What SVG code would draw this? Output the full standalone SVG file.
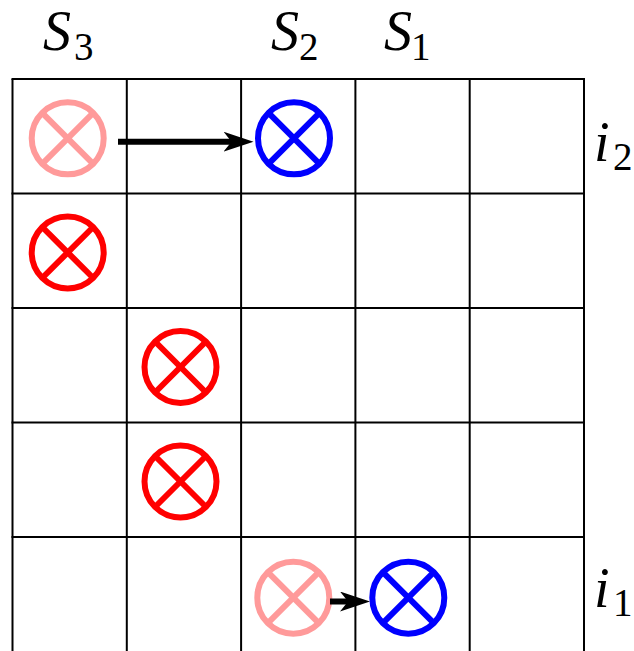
<svg xmlns="http://www.w3.org/2000/svg" width="634" height="651" viewBox="0 0 634 651">
<style>
.grid{stroke:#000;stroke-width:2;fill:none}
.pink{stroke:#FF9A9A}
.red{stroke:#FF0000}
.blue{stroke:#0000FF}
.conn{stroke:#000;stroke-width:6;fill:none}
text{font-family:"Times New Roman",Times,"Liberation Serif","Nimbus Roman","Noto Serif","DejaVu Serif",serif;fill:#000}
.big{font-size:56px;font-style:italic}
.sub{font-size:39px;font-style:normal}
</style>
<defs>
<marker id="ah" viewBox="-30 -10 30 20" refX="-20" refY="0" markerWidth="30" markerHeight="20" markerUnits="userSpaceOnUse" orient="auto">
<path d="M0,0 L-30,-10 L-22,0 L-30,10 Z" fill="#000" stroke="none"/>
</marker>
<g id="cross" fill="none" stroke-width="6">
<circle cx="0" cy="0" r="36"/>
<line x1="-25.5" y1="-25.5" x2="25.5" y2="25.5"/>
<line x1="25.5" y1="-25.5" x2="-25.5" y2="25.5"/>
</g>
</defs>
<rect width="634" height="651" fill="#fff"/>
<g id="grid" class="grid">
<line x1="12.5" y1="79" x2="12.5" y2="651"/>
<line x1="126.8" y1="79" x2="126.8" y2="651"/>
<line x1="241.1" y1="79" x2="241.1" y2="651"/>
<line x1="355.4" y1="79" x2="355.4" y2="651"/>
<line x1="469.7" y1="79" x2="469.7" y2="651"/>
<line x1="584" y1="79" x2="584" y2="651"/>
<line x1="11.5" y1="79" x2="585" y2="79"/>
<line x1="11.5" y1="193.5" x2="585" y2="193.5"/>
<line x1="11.5" y1="308" x2="585" y2="308"/>
<line x1="11.5" y1="422.5" x2="585" y2="422.5"/>
<line x1="11.5" y1="537" x2="585" y2="537"/>
</g>
<g id="n_pink_top" class="pink"><use href="#cross" x="67.7" y="138.3"/></g>
<g id="n_blue_top" class="blue"><use href="#cross" x="294" y="138.3"/></g>
<g id="n_red_1" class="red"><use href="#cross" x="67.7" y="252.5"/></g>
<g id="n_red_2" class="red"><use href="#cross" x="180.5" y="367"/></g>
<g id="n_red_3" class="red"><use href="#cross" x="180.5" y="481.5"/></g>
<g id="n_pink_bot" class="pink"><use href="#cross" x="293.3" y="597.7"/></g>
<g id="n_blue_bot" class="blue"><use href="#cross" x="408.3" y="597.7"/></g>
<g id="connectors" class="conn">
<line x1="118" y1="141.7" x2="233.5" y2="141.7" marker-end="url(#ah)"/>
<line x1="330" y1="601.5" x2="350" y2="601.5" marker-end="url(#ah)"/>
</g>
<g id="labels">
<text x="43" y="50" class="big">S</text>
<text x="74" y="59.5" class="sub">3</text>
<text x="271" y="50" class="big">S</text>
<text x="299" y="59.5" class="sub">2</text>
<text x="384" y="50" class="big">S</text>
<text x="411" y="59.5" class="sub">1</text>
<text x="594" y="161" class="big">i</text>
<text x="613" y="170" class="sub">2</text>
<text x="594" y="607" class="big">i</text>
<text x="613" y="616" class="sub">1</text>
</g>
</svg>
